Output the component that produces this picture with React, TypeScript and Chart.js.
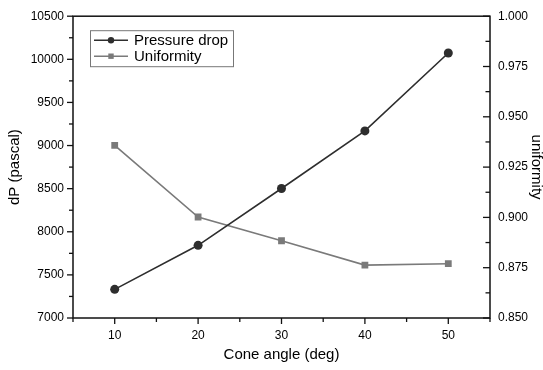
import React, { useEffect, useRef } from "react";
import { Chart, registerables } from "chart.js";

Chart.register(...registerables);

const coneAngles = [10, 20, 30, 40, 50];
const pressureDrop = [7332, 7843, 8502, 9170, 10073];
const uniformity = [0.9358, 0.9002, 0.8884, 0.8763, 0.877];

const FONT = "'Liberation Sans', Arial, sans-serif";

const framePlugin = {
  id: "frameAndLegend",
  afterDraw(chart: any) {
    const { ctx, chartArea } = chart;
    const { left, right, top, bottom } = chartArea;
    ctx.save();
    ctx.strokeStyle = "#111";
    ctx.lineWidth = 1.5;
    ctx.strokeRect(left, top, right - left, bottom - top);

    // x ticks (outward)
    const xs = chart.scales.x;
    ctx.lineWidth = 1.3;
    xs.ticks.forEach((t: any) => {
      const px = xs.getPixelForValue(t.value);
      const len = t.value % 10 === 0 ? 6 : 4;
      ctx.beginPath();
      ctx.moveTo(px, bottom);
      ctx.lineTo(px, bottom + len);
      ctx.stroke();
    });
    // left y ticks (outward)
    const ys = chart.scales.y;
    ys.ticks.forEach((t: any) => {
      const py = ys.getPixelForValue(t.value);
      const len = t.value % 500 === 0 ? 6 : 4;
      ctx.beginPath();
      ctx.moveTo(left - len, py);
      ctx.lineTo(left, py);
      ctx.stroke();
    });
    // right y ticks (inward)
    const y1 = chart.scales.y1;
    y1.ticks.forEach((t: any) => {
      const py = y1.getPixelForValue(t.value);
      const n = Math.round((t.value - 0.85) / 0.0125);
      const len = n % 2 === 0 ? 7 : 4.5;
      ctx.beginPath();
      ctx.moveTo(right - len, py);
      ctx.lineTo(right, py);
      ctx.stroke();
    });

    // legend
    const bx = left + 17;
    const by = top + 14;
    const bw = 143;
    const bh = 36;
    ctx.strokeStyle = "#777";
    ctx.lineWidth = 1;
    ctx.strokeRect(bx + 0.5, by + 0.5, bw, bh);
    chart.data.datasets.forEach((ds: any, i: number) => {
      const cy = by + 10 + i * 16;
      ctx.strokeStyle = ds.borderColor;
      ctx.lineWidth = 1.6;
      ctx.beginPath();
      ctx.moveTo(bx + 4, cy);
      ctx.lineTo(bx + 38, cy);
      ctx.stroke();
      ctx.fillStyle = ds.pointBackgroundColor;
      const mx = bx + 21;
      if (ds.pointStyle === "circle") {
        ctx.beginPath();
        ctx.arc(mx, cy, 3.2, 0, Math.PI * 2);
        ctx.fill();
      } else {
        ctx.fillRect(mx - 2.7, cy - 2.7, 5.4, 5.4);
      }
      ctx.fillStyle = "#000";
      ctx.font = `15px ${FONT}`;
      ctx.textBaseline = "middle";
      ctx.textAlign = "left";
      ctx.fillText(ds.label, bx + 44, cy + 1);
    });
    ctx.restore();
  },
};

export default function App() {
  const ref = useRef<HTMLCanvasElement>(null);
  useEffect(() => {
    if (!ref.current) return;
    const chart = new Chart(ref.current, {
      type: "line",
      data: {
        datasets: [
          {
            label: "Pressure drop",
            data: coneAngles.map((x, i) => ({ x, y: pressureDrop[i] })),
            borderColor: "#2e2e2e",
            backgroundColor: "#2e2e2e",
            pointBackgroundColor: "#2e2e2e",
            pointBorderWidth: 0,
            pointStyle: "circle",
            pointRadius: 4.5,
            borderWidth: 1.6,
            yAxisID: "y",
          },
          {
            label: "Uniformity",
            data: coneAngles.map((x, i) => ({ x, y: uniformity[i] })),
            borderColor: "#7a7a7a",
            backgroundColor: "#7a7a7a",
            pointBackgroundColor: "#7a7a7a",
            pointBorderWidth: 0,
            pointStyle: "rect",
            pointRadius: 4.8,
            borderWidth: 1.6,
            yAxisID: "y1",
          },
        ] as any,
      },
      options: {
        responsive: false,
        animation: false,
        layout: { padding: { top: 12, left: 0, right: 0, bottom: 0 } },
        plugins: { legend: { display: false }, tooltip: { enabled: false } },
        scales: {
          x: {
            type: "linear",
            position: "bottom",
            min: 5,
            max: 55,
            afterFit: (s: any) => {
              s.height = 52;
            },
            border: { display: false },
            grid: { display: false, drawTicks: false },
            ticks: {
              stepSize: 5,
              autoSkip: false,
              maxRotation: 0,
              padding: 10,
              color: "#000",
              font: { family: FONT, size: 12 },
              callback: (v: any) => (Number(v) % 10 === 0 ? String(v) : ""),
            },
            title: {
              display: true,
              text: "Cone angle (deg)",
              color: "#000",
              font: { family: FONT, size: 15 },
              padding: { top: 0, bottom: 6 },
            },
          },
          y: {
            type: "linear",
            position: "left",
            min: 7000,
            max: 10500,
            afterFit: (s: any) => {
              s.width = 73;
            },
            border: { display: false },
            grid: { display: false, drawTicks: false },
            ticks: {
              stepSize: 250,
              autoSkip: false,
              padding: 9,
              color: "#000",
              font: { family: FONT, size: 12 },
              callback: (v: any) => (Number(v) % 500 === 0 ? String(v) : ""),
            },
            title: {
              display: true,
              text: "dP (pascal)",
              color: "#000",
              font: { family: FONT, size: 15 },
              padding: { top: 6, bottom: 0 },
            },
          },
          y1: {
            type: "linear",
            position: "right",
            min: 0.85,
            max: 1.0,
            afterFit: (s: any) => {
              s.width = 53;
            },
            border: { display: false },
            grid: { display: false, drawTicks: false },
            ticks: {
              stepSize: 0.0125,
              autoSkip: false,
              padding: 8,
              color: "#000",
              font: { family: FONT, size: 12 },
              callback: (v: any) => {
                const n = Math.round((Number(v) - 0.85) / 0.0125);
                return n % 2 === 0 ? Number(v).toFixed(3) : "";
              },
            },
            title: {
              display: true,
              text: "uniformity",
              color: "#000",
              font: { family: FONT, size: 15 },
              padding: { top: -2, bottom: 0 },
            },
          },
        },
      } as any,
      plugins: [framePlugin],
    });
    return () => chart.destroy();
  }, []);
  return (
    <div style={{ position: "absolute", left: 0, top: 0, width: 543, height: 370, background: "#fff" }}>
      <canvas ref={ref} width={543} height={370} style={{ display: "block" }} />
    </div>
  );
}
